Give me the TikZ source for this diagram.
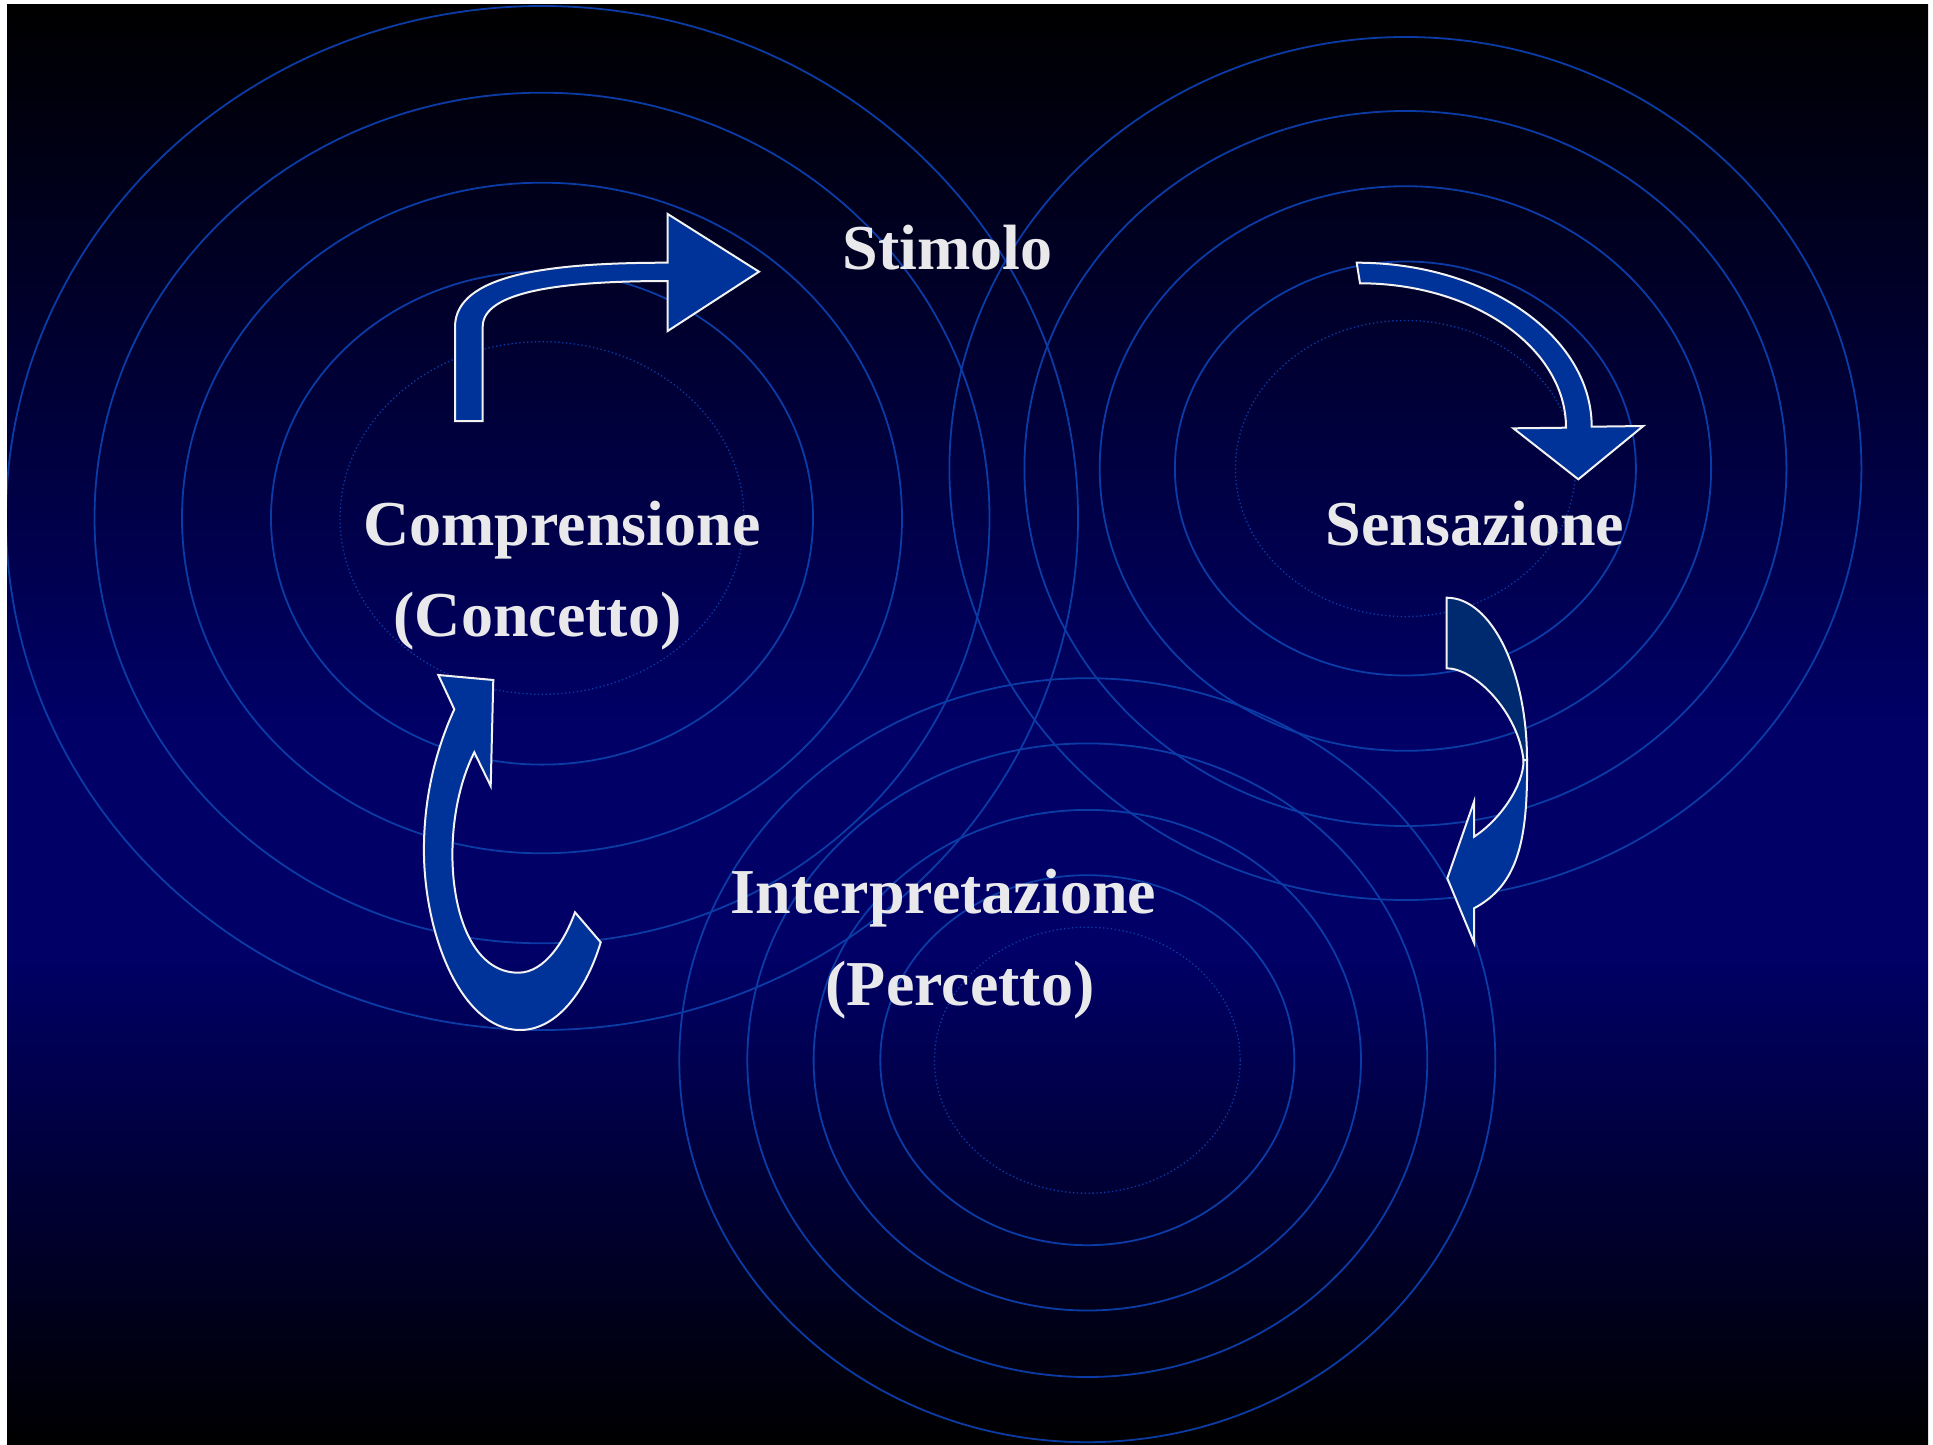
\documentclass[tikz,border=0pt]{standalone}
\usepackage{fontspec}
\setmainfont{Liberation Serif}
\usepackage{tikz}
\usetikzlibrary{calc,positioning}
\definecolor{SlideNavy}{HTML}{000066}
\definecolor{RingBlue}{HTML}{0B3CA6}
\definecolor{ArrowBlue}{HTML}{003399}
\definecolor{ArrowShade}{HTML}{002A70}
\definecolor{EdgeWhite}{HTML}{F2F2F2}
\definecolor{LabelGray}{HTML}{E9E9EC}
\pgfdeclareverticalshading{SlideGlow}{100bp}{color(0bp)=(black); color(25bp)=(black);
  color(42bp)=(SlideNavy); color(50bp)=(SlideNavy); color(75bp)=(black); color(100bp)=(black)}

\begin{document}
\begin{tikzpicture}[
    x=1pt, y=-1pt,
    ring/.style={draw=RingBlue, line width=1.8pt},
    ringdots/.style={draw=RingBlue, line width=1.3pt, dash pattern=on 1.3pt off 2.6pt},
    arrowbody/.style={fill=ArrowBlue, draw=EdgeWhite, line width=2pt, line join=miter},
    arrowback/.style={fill=ArrowShade, draw=EdgeWhite, line width=2pt},
    slidetext/.style={anchor=base, inner sep=0pt, text=LabelGray,
      font=\fontsize{64}{70}\selectfont\bfseries}
  ]
  % page and slide
  \fill[white] (0,0) rectangle (1933,1445);
  \useasboundingbox (0,0) rectangle (1933,1445);
  \shade[shading=SlideGlow] (7,5) rectangle (1928,1445);

  % rings
  \begin{scope}
    \clip (7,5) rectangle (1928,1445);
    \foreach \rx/\ry in {536/512, 447.5/425.3, 360/335.3, 271/246.6}
      \draw[ring] (542,518) ellipse [x radius=\rx, y radius=\ry];
    \draw[ringdots] (542,518) ellipse [x radius=202, y radius=176.3];
    \foreach \rx/\ry in {456/431.5, 381/357.5, 305.7/282.3, 230.5/207}
      \draw[ring] (1405.4,468.5) ellipse [x radius=\rx, y radius=\ry];
    \draw[ringdots] (1405.4,468.5) ellipse [x radius=170, y radius=148];
    \foreach \rx/\ry in {408/382, 340/316.8, 273.7/250.3, 207/185}
      \draw[ring] (1087.3,1060.2) ellipse [x radius=\rx, y radius=\ry];
    \draw[ringdots] (1087.3,1060.2) ellipse [x radius=152.9, y radius=133];
  \end{scope}

  % arrows
  \draw[arrowbody] (455,421) -- (455,327)
    .. controls (455,273.3) and (553.3,262.7) .. (667.7,262.7)
    -- (667.7,214) -- (759,271.7) -- (667.7,331) -- (667.7,281)
    .. controls (560,281) and (482.7,291.7) .. (482.7,326.7)
    -- (482.7,421) -- cycle;

  \draw[arrowbody] (1356.7,262.7)
    .. controls (1486.5,262.7) and (1591.7,336.4) .. (1591.7,426.7)
    -- (1643.3,426) -- (1578.3,479.3) -- (1513.3,428.3) -- (1566,427.7)
    .. controls (1566,348) and (1473.8,283.3) .. (1360,283.3) -- cycle;

  \draw[arrowback] (1446.7,597.7)
    .. controls (1491,597.7) and (1527,670) .. (1527,760)
    -- (1523.5,760)
    .. controls (1518,712) and (1475,668.3) .. (1446.7,668.3) -- cycle;
  \draw[arrowbody] (1527,760)
    .. controls (1528,840) and (1518,885) .. (1474,908.3)
    -- (1474,942.7) -- (1447.3,878.3) -- (1474,801.7) -- (1474,836.7)
    .. controls (1500,820) and (1524,785) .. (1523.5,760) -- cycle;

  \draw[arrowbody] (438.3,675) -- (493.3,680) -- (490.7,786) -- (474.3,752.3)
    .. controls (435,830) and (448,972.7) .. (518.3,972.7)
    .. controls (545,972.7) and (565,940) .. (575,912.3)
    -- (600.7,942.3)
    .. controls (588,985) and (560,1030) .. (520,1030)
    .. controls (460,1030) and (422,930) .. (424,843)
    .. controls (425,790) and (438,745) .. (454.3,709.3) -- cycle;

  % labels
  \node[slidetext] (stimolo) at (947.5,269.3) {Stimolo};
  \node[slidetext] (comprensione) at (562,545.7) {Comprensione};
  \node[slidetext] (concetto) at (537.5,636.7) {(Concetto)};
  \node[slidetext] (sensazione) at (1475,545) {Sensazione};
  \node[slidetext] (interpretazione) at (943.3,913.3) {Interpretazione};
  \node[slidetext] (percetto) at (960,1005) {(Percetto)};
\end{tikzpicture}
\end{document}
